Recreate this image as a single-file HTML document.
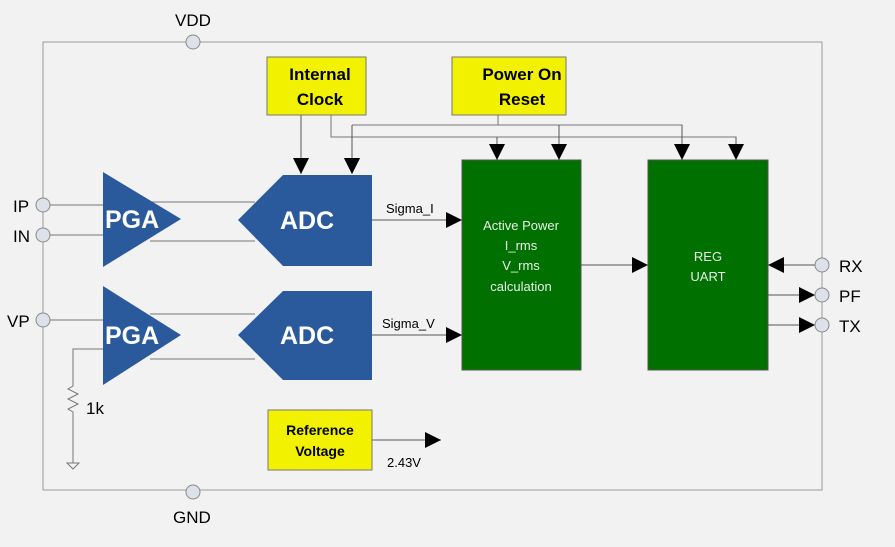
<!DOCTYPE html>
<html><head><style>body{margin:0;background:#f2f2f2}svg{display:block}</style></head><body>
<svg width="895" height="547" viewBox="0 0 895 547" xmlns="http://www.w3.org/2000/svg" font-family="'Liberation Sans',sans-serif">
<defs><marker id="a" markerWidth="10" markerHeight="10" refX="10" refY="5" orient="auto" markerUnits="userSpaceOnUse"><path d="M0,0 L10,5 L0,10z" fill="#000"/></marker>
<marker id="b" markerWidth="16" markerHeight="16" refX="16" refY="8" orient="auto" markerUnits="userSpaceOnUse"><path d="M0,0 L16,8 L0,16z" fill="#000"/></marker></defs>
<rect width="895" height="547" fill="#f2f2f2"/>
<rect x="43" y="42" width="779" height="448" fill="none" stroke="#999" stroke-width="1"/>
<g stroke="#777" fill="none" stroke-width="1">
<path d="M50 205H103M50 235H103M50 320H103"/>
<path d="M150 202H255M150 241H255M150 314H255M150 359H255"/>
<path d="M103 349H73V386l-5 3 10 5-10 5 10 5-10 5 5 3V463"/>
<path d="M67 463h12l-6 6z"/>
<path d="M301 115V174M331 115V137H736V160M497 137V160M498 115V125M352 125H682V160M559 125V160M352 125V174" marker-end="url(#b)"/>
</g>
<g stroke="#555" fill="none" stroke-width="1">
<path d="M301 115V174" marker-end="url(#b)"/>
<path d="M352 125V174" marker-end="url(#b)"/>
<path d="M497 137V160" marker-end="url(#b)"/>
<path d="M559 125V160" marker-end="url(#b)"/>
<path d="M682 125V160" marker-end="url(#b)"/>
<path d="M736 137V160" marker-end="url(#b)"/>
<path d="M372 220H462" marker-end="url(#b)"/>
<path d="M372 335H462" marker-end="url(#b)"/>
<path d="M581 265H648" marker-end="url(#b)"/>
<path d="M815 265H768" marker-end="url(#b)"/>
<path d="M768 295H815" marker-end="url(#b)"/>
<path d="M768 325H815" marker-end="url(#b)"/>
<path d="M372 440H441" marker-end="url(#b)"/>
</g>
<g fill="#2a5a9c">
<path d="M103 172L181 219L103 267z"/><path d="M103 286L181 335L103 385z"/>
<path d="M283 175H372V266H283L238 220z"/><path d="M283 291H372V380H283L238 335z"/>
</g>
<g fill="#fff" font-weight="bold" font-size="25"><text x="105" y="228">PGA</text><text x="105" y="344">PGA</text><text x="280" y="229">ADC</text><text x="280" y="344">ADC</text></g>
<g fill="#f2f200" stroke="#777"><rect x="267" y="57" width="99" height="58"/><rect x="452" y="57" width="114" height="58"/><rect x="268" y="410" width="104" height="60"/></g>
<g font-weight="bold" font-size="17" text-anchor="middle"><text x="320" y="80">Internal</text><text x="320" y="105">Clock</text><text x="522" y="80">Power On</text><text x="522" y="105">Reset</text></g>
<g font-weight="bold" font-size="14" text-anchor="middle"><text x="320" y="435">Reference</text><text x="320" y="456">Voltage</text></g>
<rect x="462" y="160" width="119" height="210" fill="#007000" stroke="#555"/>
<rect x="648" y="160" width="120" height="210" fill="#007000" stroke="#555"/>
<g fill="#e8f0e8" font-size="13" text-anchor="middle"><text x="521" y="230">Active Power</text><text x="521" y="250">I_rms</text><text x="521" y="270">V_rms</text><text x="521" y="291">calculation</text><text x="708" y="261">REG</text><text x="708" y="281">UART</text></g>
<g font-size="13"><text x="386" y="213">Sigma_I</text><text x="382" y="328">Sigma_V</text><text x="387" y="467">2.43V</text></g>
<g font-size="17"><text x="175" y="26">VDD</text><text x="173" y="523">GND</text><text x="13" y="212">IP</text><text x="13" y="242">IN</text><text x="7" y="327">VP</text><text x="839" y="272">RX</text><text x="839" y="302">PF</text><text x="839" y="332">TX</text><text x="86" y="414">1k</text></g>
<g fill="#dde2ea" stroke="#888"><circle cx="193" cy="42" r="7"/><circle cx="193" cy="492" r="7"/><circle cx="43" cy="205" r="7"/><circle cx="43" cy="235" r="7"/><circle cx="43" cy="320" r="7"/><circle cx="822" cy="265" r="7"/><circle cx="822" cy="295" r="7"/><circle cx="822" cy="325" r="7"/></g>
</svg>
</body></html>
